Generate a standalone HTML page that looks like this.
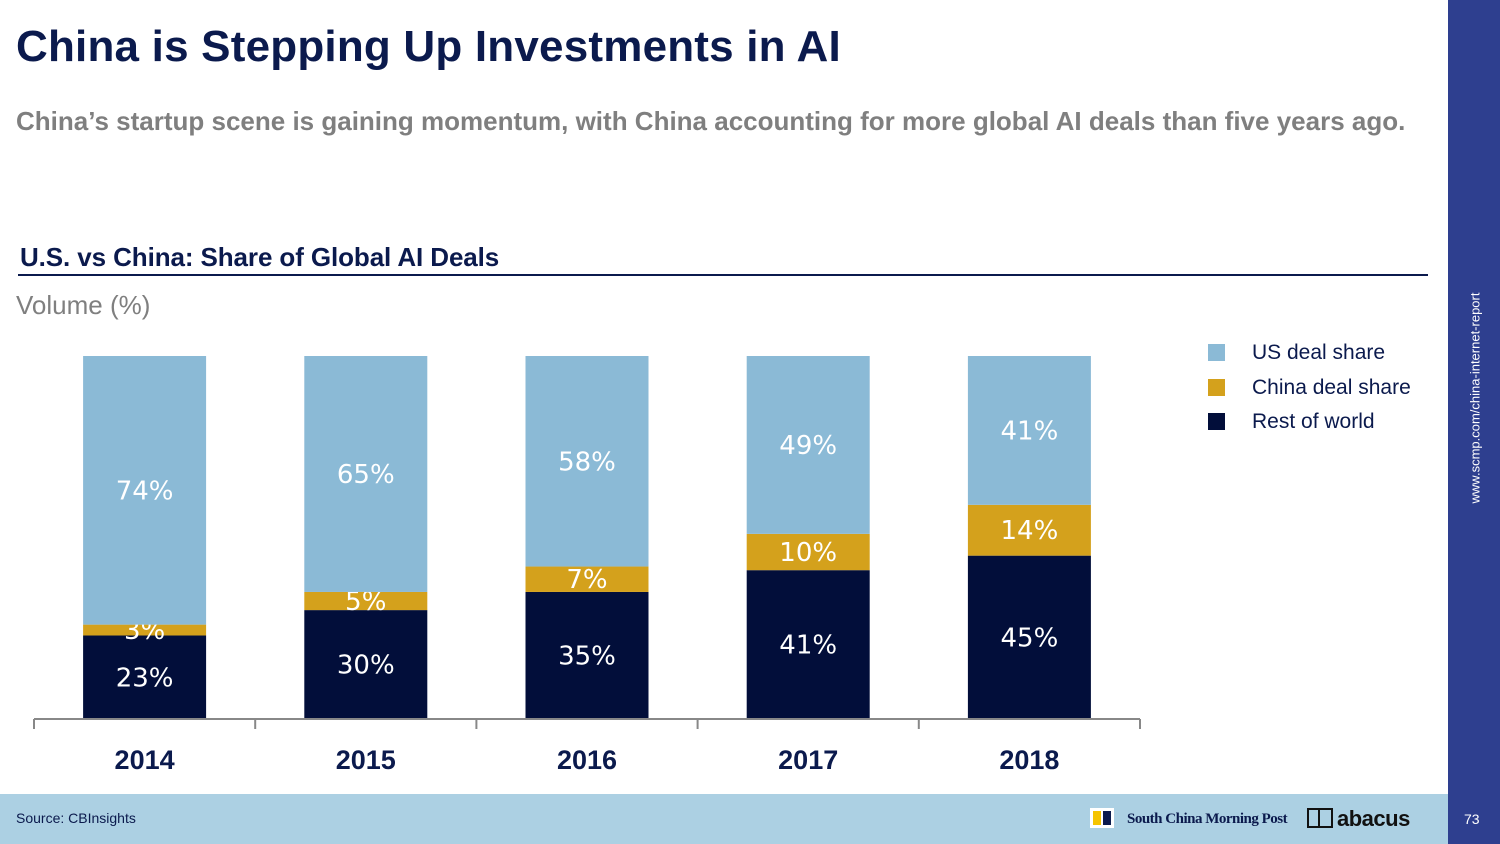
<!DOCTYPE html>
<html><head><meta charset="utf-8"><style>
body{margin:0;width:1500px;height:844px;position:relative;overflow:hidden;background:#fff;font-family:"Liberation Sans",sans-serif}
.abs{position:absolute}
</style></head><body>
<div class="abs" style="left:16px;top:22px;font-size:44px;font-weight:bold;color:#0b1a4d;letter-spacing:0.2px">China is Stepping Up Investments in AI</div>
<div class="abs" style="left:16px;top:106px;font-size:26px;font-weight:bold;color:#7f7f7f;letter-spacing:0px">China’s startup scene is gaining momentum, with China accounting for more global AI deals than five years ago.</div>
<div class="abs" style="left:20px;top:242px;font-size:26px;font-weight:bold;color:#0b1a4d;letter-spacing:-0.1px">U.S. vs China: Share of Global AI Deals</div>
<div class="abs" style="left:18px;top:274px;width:1410px;height:2px;background:#0b1a4d"></div>
<div class="abs" style="left:16px;top:290px;font-size:26px;color:#7f7f7f">Volume (%)</div>
<svg class="abs" style="left:0;top:0" width="1448" height="794" id="chart"></svg>
<div class="abs" style="left:1208px;top:336px;font-size:21px;color:#0b1a4d;line-height:34.5px">
<div><span style="display:inline-block;width:17px;height:17px;background:#8bbad6;vertical-align:-2px;margin-right:27px"></span>US deal share</div>
<div><span style="display:inline-block;width:17px;height:17px;background:#d4a11c;vertical-align:-2px;margin-right:27px"></span>China deal share</div>
<div><span style="display:inline-block;width:17px;height:17px;background:#020e3a;vertical-align:-2px;margin-right:27px"></span>Rest of world</div>
</div>
<div class="abs" style="left:0;top:794px;width:1448px;height:50px;background:#acd0e3"></div>
<div class="abs" style="left:16px;top:810px;font-size:14px;color:#0b1a4d">Source: CBInsights</div>
<div class="abs" style="left:1090px;top:808px;width:24px;height:20px;background:#fff"><div style="position:absolute;left:3px;top:3px;width:8px;height:14px;background:#f5c400"></div><div style="position:absolute;left:13px;top:3px;width:8px;height:14px;background:#0b1a4d"></div></div>
<div class="abs" style="left:1127px;top:811px;font-family:'Liberation Serif',serif;font-weight:bold;font-size:15px;color:#0b1a4d;letter-spacing:-0.5px">South China Morning Post</div>
<div class="abs" style="left:1307px;top:808px;width:26px;height:20px;border:2px solid #111;box-sizing:border-box"><div style="position:absolute;left:9px;top:0;width:2px;height:16px;background:#111"></div></div>
<div class="abs" style="left:1337px;top:806px;font-size:22px;font-weight:bold;color:#111;letter-spacing:-0.5px">abacus</div>
<div class="abs" style="left:1448px;top:0;width:52px;height:844px;background:#2e3f8f"></div>
<div class="abs" style="left:1475px;top:398px;transform:translate(-50%,-50%) rotate(-90deg);font-size:13px;color:#fff;white-space:nowrap">www.scmp.com/china-internet-report</div>
<div class="abs" style="left:1464px;top:811px;font-size:14px;color:#fff">73</div>
<script>
const years=["2014","2015","2016","2017","2018"];
const rest=[23,30,35,41,45];
const china=[3,5,7,10,14];
const us=[74,65,58,49,41];
const svg=document.getElementById('chart');
const NS='http://www.w3.org/2000/svg';
const base=719,top0=356,left=34,step=221.2,bw=123;
const y=v=>base-(base-top0)*v/100;
const xc=i=>left+step*(i+0.5);
function mk(t,a){const e=document.createElementNS(NS,t);for(const k in a)e.setAttribute(k,a[k]);svg.appendChild(e);return e;}
const series=[[rest,'#020e3a','rest'],[china,'#d4a11c','china'],[us,'#8bbad6','us']];
years.forEach((yr,i)=>{
  let cum=0;
  series.forEach(([arr,col,nm])=>{
    const v=arr[i];const y1=y(cum),y2=y(cum+v);
    const r=mk('rect',{x:xc(i)-bw/2,y:y2,width:bw,height:y1-y2,fill:col});
    
    
    const t=mk('text',{x:xc(i),y:(y1+y2)/2+9,'text-anchor':'middle','font-size':26,fill:'#fff','font-family':'DejaVu Sans, sans-serif'});
    t.textContent=v+'%';
    
    
    cum+=v;
  });
  const xl=mk('text',{x:xc(i),y:769,'text-anchor':'middle','font-size':27,'font-weight':'bold',fill:'#0b1a4d'});
  xl.textContent=yr;
  
  
});
const ax=mk('line',{x1:left,x2:left+step*5,y1:base,y2:base,stroke:'#888','stroke-width':2});


for(let k=0;k<=years.length;k++){
  const tk=mk('line',{x1:left+step*k,x2:left+step*k,y1:base,y2:base+10,stroke:'#888','stroke-width':2});
  
  
}
</script>
</body></html>
